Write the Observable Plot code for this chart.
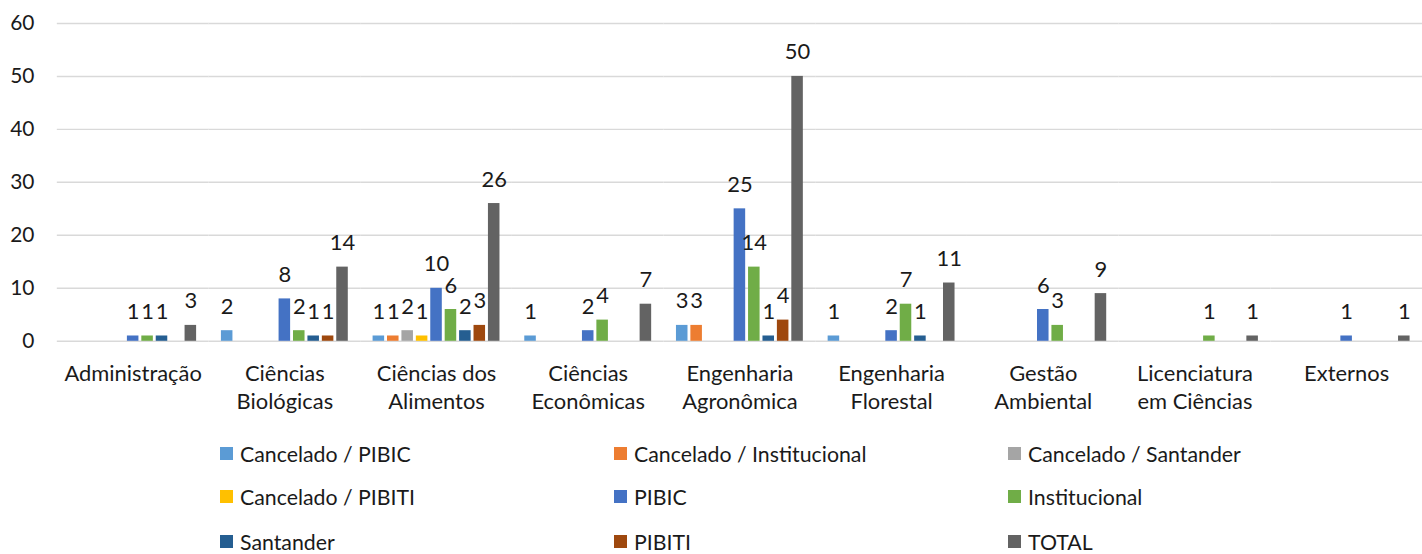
<!DOCTYPE html>
<html>
<head>
<meta charset="utf-8">
<script src="https://cdn.jsdelivr.net/npm/d3@7"></script>
<script src="https://cdn.jsdelivr.net/npm/@observablehq/plot@0.6"></script>
<style>
  html, body { margin: 0; padding: 0; background: #fff; overflow: hidden; }
  #chart svg { display: block; }
  .legend { position: relative; height: 134px; font-family: Lato, sans-serif; font-size: 21.3px; color: #1a1a1a; }
  .legend .item { position: absolute; display: flex; align-items: center; white-space: nowrap; }
  .legend .sw { width: 13px; height: 13px; margin-right: 7px; }
</style>
</head>
<body>
<div id="chart"></div>
<div class="legend" id="legend"></div>
<script>
const categories = ["Administração", "Ciências Biológicas", "Ciências dos Alimentos", "Ciências Econômicas", "Engenharia Agronômica", "Engenharia Florestal", "Gestão Ambiental", "Licenciatura em Ciências", "Externos"];
const categoryLabels = ["Administração", "Ciências\nBiológicas", "Ciências dos\nAlimentos", "Ciências\nEconômicas", "Engenharia\nAgronômica", "Engenharia\nFlorestal", "Gestão\nAmbiental", "Licenciatura\nem Ciências", "Externos"];
const seriesNames = ["Cancelado / PIBIC", "Cancelado / Institucional", "Cancelado / Santander", "Cancelado / PIBITI", "PIBIC", "Institucional", "Santander", "PIBITI", "TOTAL"];
const seriesColors = ["#5B9BD5", "#ED7D31", "#A5A5A5", "#FFC000", "#4472C4", "#70AD47", "#255E91", "#9E480E", "#636363"];

const canceladoPIBIC         = [0, 2, 1, 1, 3, 1, 0, 0, 0];
const canceladoInstitucional = [0, 0, 1, 0, 3, 0, 0, 0, 0];
const canceladoSantander     = [0, 0, 2, 0, 0, 0, 0, 0, 0];
const canceladoPIBITI        = [0, 0, 1, 0, 0, 0, 0, 0, 0];
const pibic                  = [1, 8, 10, 2, 25, 2, 6, 0, 1];
const institucional          = [1, 2, 6, 4, 14, 7, 3, 1, 0];
const santander              = [1, 1, 2, 0, 1, 1, 0, 0, 0];
const pibiti                 = [0, 1, 3, 0, 4, 0, 0, 0, 0];
const total                  = [3, 14, 26, 7, 50, 11, 9, 1, 1];

const yTicks = [0, 10, 20, 30, 40, 50, 60];

const seriesValues = [canceladoPIBIC, canceladoInstitucional, canceladoSantander, canceladoPIBITI, pibic, institucional, santander, pibiti, total];
const rows = [];
categories.forEach((c, i) => {
  seriesNames.forEach((s, j) => {
    const v = seriesValues[j][i];
    if (v > 0) rows.push({category: c, series: s, value: v});
  });
});
const labelOf = new Map(categories.map((c, i) => [c, categoryLabels[i]]));

const font = "Lato, sans-serif";
const chart = Plot.plot({
  width: 1427,
  height: 420,
  marginLeft: 57,
  marginRight: 0,
  marginTop: 23,
  marginBottom: 78,
  style: {fontFamily: font, fontSize: "22px", color: "#1a1a1a", background: "#fff"},
  fx: {domain: categories, padding: 0, round: false, label: null},
  x: {domain: seriesNames, paddingInner: 0.2, paddingOuter: 0.86, round: false, axis: null},
  y: {domain: [0, 60], label: null},
  color: {domain: seriesNames, range: seriesColors},
  marks: [
    Plot.gridY(yTicks, {stroke: "#d9d9d9", strokeOpacity: 1, strokeWidth: 1.5}),
    Plot.axisY(yTicks, {tickSize: 0, tickPadding: 23, label: null, fontSize: 21, fill: "#1a1a1a"}),
    Plot.axisFx({anchor: "bottom", tickSize: 0, tickPadding: 20, label: null, fontSize: 22, lineHeight: 1.28, fill: "#1a1a1a", tickFormat: d => labelOf.get(d)}),
    Plot.barY(rows, {fx: "category", x: "series", y: "value", fill: "series"}),
    Plot.text(rows, {fx: "category", x: "series", y: "value", text: d => String(d.value), dy: -24, fontSize: 22, fill: "#1a1a1a"})
  ]
});
document.getElementById("chart").appendChild(chart);

const legend = document.getElementById("legend");
const colX = [220, 614, 1008];
const rowY = [35, 78, 123];
seriesNames.forEach((s, i) => {
  const item = document.createElement("div");
  item.className = "item";
  item.style.left = colX[i % 3] + "px";
  item.style.top = (rowY[Math.floor(i / 3)] - 13) + "px";
  item.style.height = "26px";
  const sw = document.createElement("span");
  sw.className = "sw";
  sw.style.background = seriesColors[i];
  const t = document.createElement("span");
  t.textContent = s;
  item.appendChild(sw);
  item.appendChild(t);
  legend.appendChild(item);
});
</script>
</body>
</html>
